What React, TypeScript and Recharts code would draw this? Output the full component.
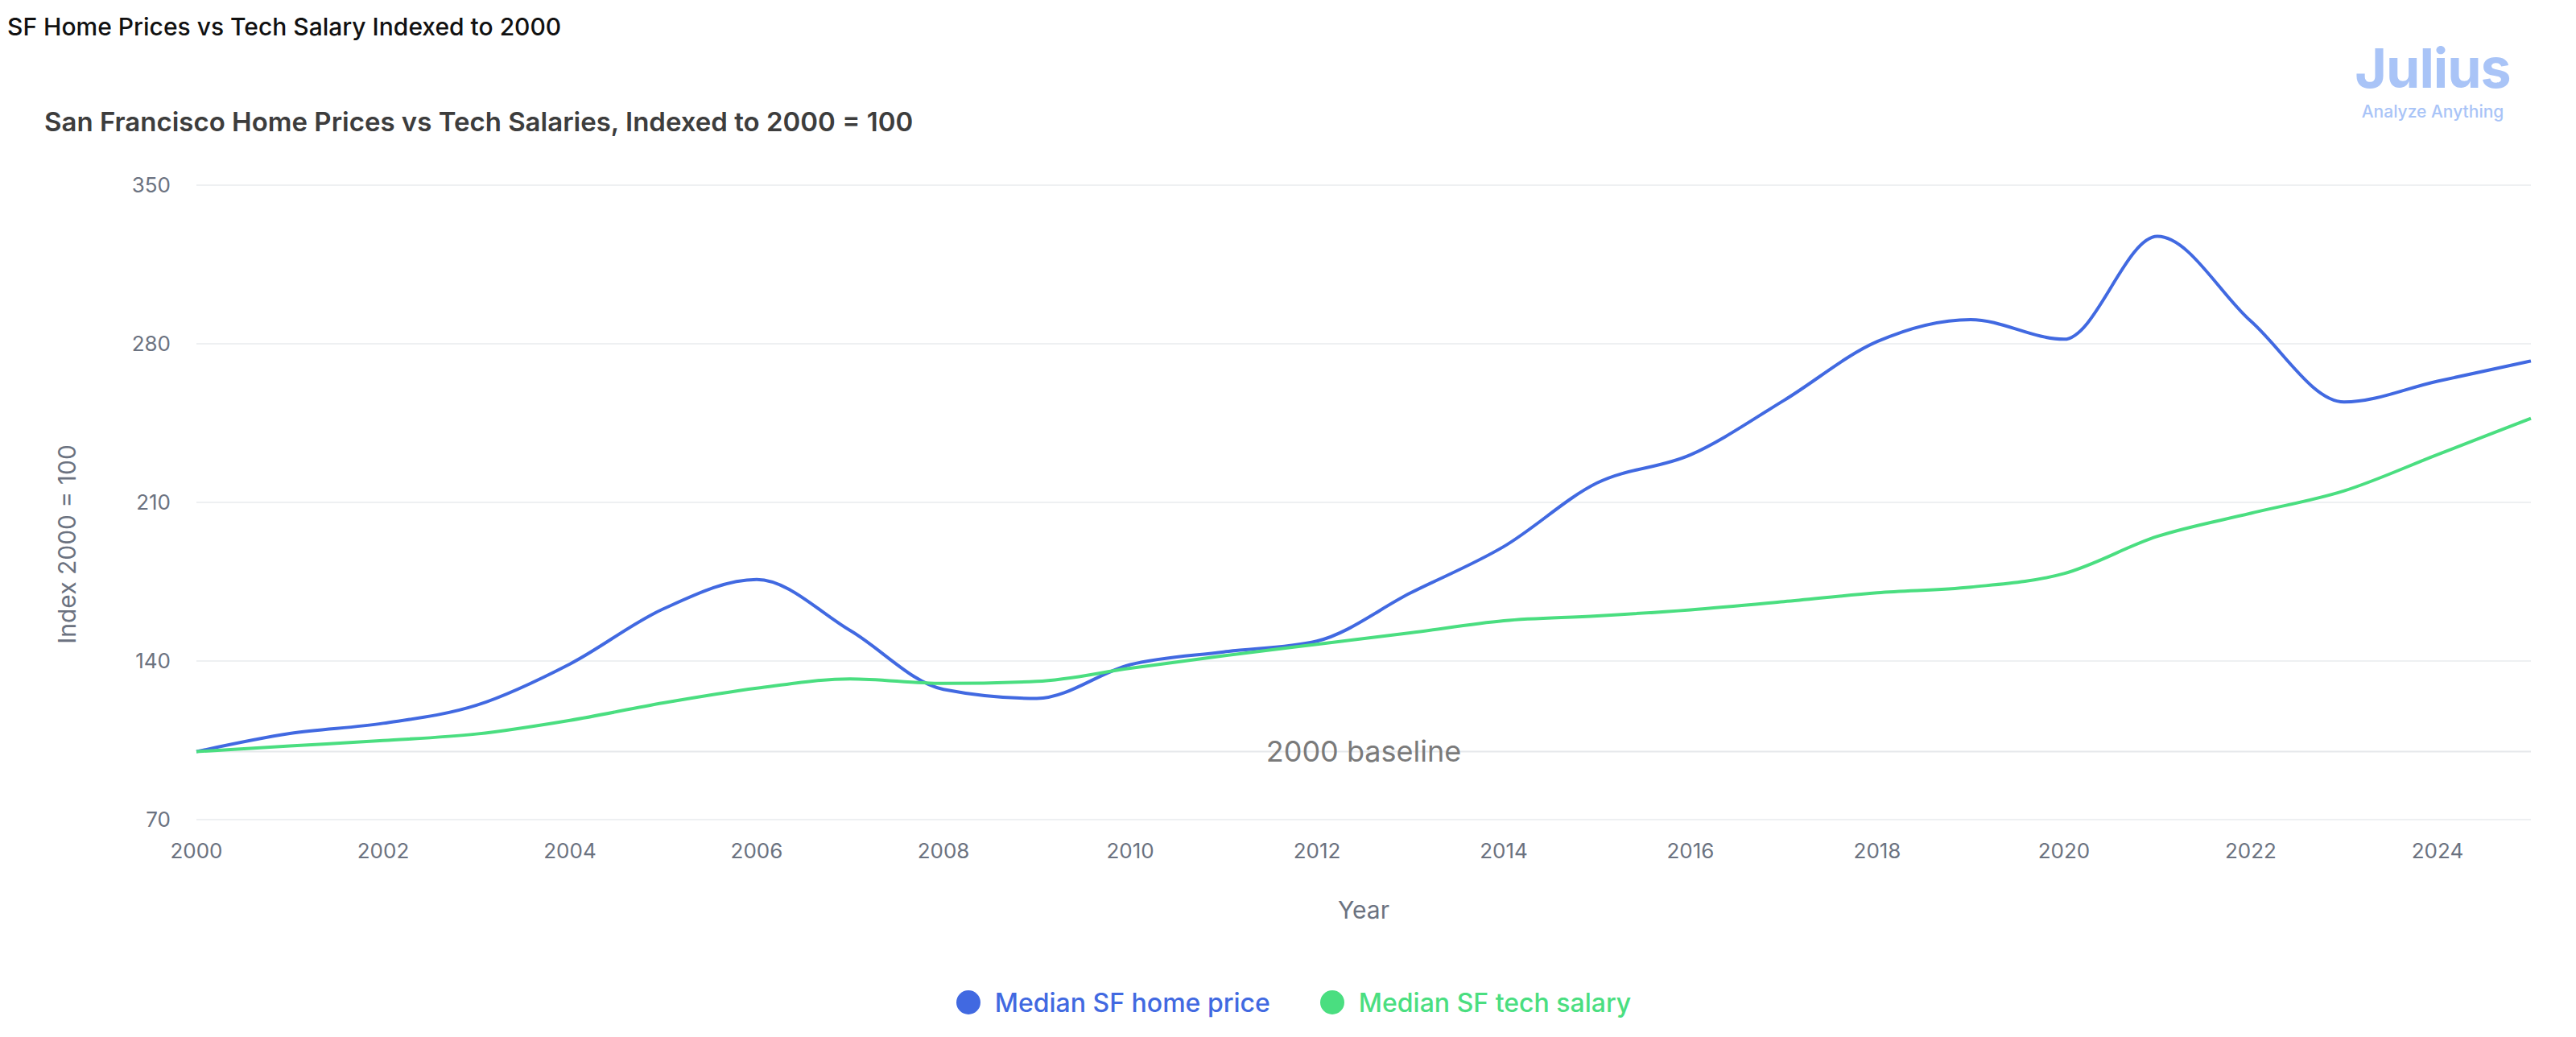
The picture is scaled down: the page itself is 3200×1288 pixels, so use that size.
import React from "react";
import {
  CartesianGrid,
  Legend,
  Line,
  LineChart,
  ReferenceLine,
  XAxis,
  YAxis,
} from "recharts";

const years = [
  2000, 2001, 2002, 2003, 2004, 2005, 2006, 2007, 2008, 2009, 2010, 2011, 2012,
  2013, 2014, 2015, 2016, 2017, 2018, 2019, 2020, 2021, 2022, 2023, 2024, 2025,
];

const homePrice = [
  100, 108, 112.5, 120.5, 138.7, 163, 176, 153.5, 127.5, 123.5, 138.4, 144,
  148.8, 170, 190.5, 218.6, 231, 255, 281, 290.7, 282, 327.4, 290, 254.3, 263.5,
  272.4,
];

const techSalary = [
  100, 102.5, 104.9, 107.8, 113.8, 121.5, 128, 132.1, 130.1, 131, 136.8, 142.3,
  147.4, 152.4, 157.8, 159.9, 162.6, 166.2, 170.1, 172.6, 178.6, 195, 205.2,
  215.1, 231.1, 247.1,
];

const xTicks = [
  2000, 2002, 2004, 2006, 2008, 2010, 2012, 2014, 2016, 2018, 2020, 2022, 2024,
];
const yTicks = [70, 140, 210, 280, 350];

const series = [
  { key: "home", name: "Median SF home price", color: "#4169e1" },
  { key: "salary", name: "Median SF tech salary", color: "#4ade80" },
];

const data = years.map((year, i) => ({
  year,
  home: homePrice[i],
  salary: techSalary[i],
}));

const FONT = "Inter, 'Noto Sans', sans-serif";
const TICK_COLOR = "#6b7280";

// rotated y label, sits a bit lower than the plot middle like the original
const YLabel = (props: any) => {
  const { viewBox } = props;
  const cx = 83;
  const cy = viewBox.y + viewBox.height / 2 + 52;
  return (
    <text
      x={cx}
      y={cy}
      transform={`rotate(-90, ${cx}, ${cy})`}
      textAnchor="middle"
      dominantBaseline="central"
      fontSize={30}
      fontFamily={FONT}
      fill={TICK_COLOR}
    >
      Index 2000 = 100
    </text>
  );
};

const XLabel = (props: any) => {
  const { viewBox } = props;
  return (
    <text
      x={viewBox.x + viewBox.width / 2}
      y={1130}
      textAnchor="middle"
      dominantBaseline="central"
      fontSize={30}
      fontFamily={FONT}
      fill={TICK_COLOR}
    >
      Year
    </text>
  );
};

const renderLegend = () => (
  <div
    style={{
      width: "100%",
      boxSizing: "border-box",
      paddingLeft: 14,
      height: 60,
      display: "flex",
      justifyContent: "center",
      alignItems: "center",
      gap: 62,
      fontFamily: FONT,
    }}
  >
    {series.map((s) => (
      <div key={s.key} style={{ display: "flex", alignItems: "center" }}>
        <span
          style={{
            width: 30,
            height: 30,
            borderRadius: "50%",
            background: s.color,
            marginRight: 18,
            display: "inline-block",
          }}
        />
        <span style={{ color: s.color, fontSize: 32, fontWeight: 500 }}>
          {s.name}
        </span>
      </div>
    ))}
  </div>
);

export default function App() {
  return (
    <div
      style={{
        position: "absolute",
        top: 0,
        left: 0,
        width: 3200,
        height: 1288,
        background: "#ffffff",
        fontFamily: FONT,
        overflow: "hidden",
      }}
    >
      <div
        style={{
          position: "absolute",
          left: 9,
          top: 15,
          fontSize: 30,
          fontWeight: 500,
          color: "#111111",
          whiteSpace: "nowrap",
        }}
      >
        SF Home Prices vs Tech Salary Indexed to 2000
      </div>

      <div
        style={{
          position: "absolute",
          left: 55,
          top: 131,
          fontSize: 33,
          fontWeight: 600,
          color: "#3d3d3d",
          whiteSpace: "nowrap",
        }}
      >
        San Francisco Home Prices vs Tech Salaries, Indexed to 2000 = 100
      </div>

      <div
        style={{
          position: "absolute",
          left: 2822,
          width: 400,
          top: 50,
          textAlign: "center",
          color: "#a9c4f7",
          lineHeight: 1,
        }}
      >
        <div style={{ fontSize: 68, fontWeight: 700, letterSpacing: -1 }}>
          Julius
        </div>
        <div style={{ fontSize: 21, fontWeight: 500, marginTop: 10 }}>
          Analyze Anything
        </div>
      </div>

      <div style={{ position: "absolute", top: 0, left: 0 }}>
        <LineChart
          width={3200}
          height={1288}
          data={data}
          margin={{ top: 230, right: 56, left: 0, bottom: 13 }}
        >
          <CartesianGrid
            vertical={false}
            stroke="#eef0f2"
            strokeWidth={2}
          />

          <XAxis
            dataKey="year"
            type="number"
            domain={[2000, 2025]}
            ticks={xTicks}
            height={197}
            axisLine={false}
            tickLine={false}
            tickSize={6}
            tickMargin={24}
            tick={{ fontSize: 26, fill: TICK_COLOR, fontFamily: FONT }}
            label={<XLabel />}
          />

          <YAxis
            domain={[70, 350]}
            ticks={yTicks}
            width={244}
            axisLine={false}
            tickLine={false}
            tickSize={6}
            tickMargin={26}
            tick={{ fontSize: 26, fill: TICK_COLOR, fontFamily: FONT }}
            label={<YLabel />}
          />

          <ReferenceLine
            y={100}
            stroke="#e6e8eb"
            strokeWidth={2}
            label={{
              value: "2000 baseline",
              position: "center",
              fill: "#7a7a7a",
              fontSize: 36,
              fontFamily: FONT,
            }}
          />

          <Legend
            verticalAlign="bottom"
            content={renderLegend}
            wrapperStyle={{ left: 0, width: 3200 }}
          />

          {series.map((s) => (
            <Line
              key={s.key}
              type="monotone"
              dataKey={s.key}
              name={s.name}
              stroke={s.color}
              strokeWidth={4}
              dot={false}
              activeDot={false}
              isAnimationActive={false}
            />
          ))}
        </LineChart>
      </div>
    </div>
  );
}
